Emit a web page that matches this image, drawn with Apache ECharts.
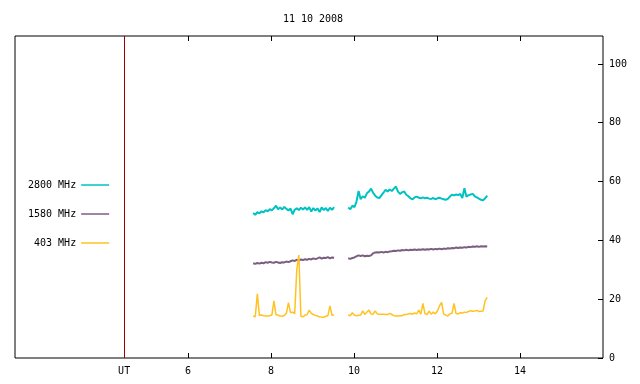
<!DOCTYPE html>
<html>
<head>
<meta charset="utf-8">
<title>11 10 2008</title>
<script src="https://cdn.jsdelivr.net/npm/echarts@6/dist/echarts.min.js"></script>
<style>
  html, body { margin: 0; padding: 0; background: #fff; }
  #chart { width: 640px; height: 384px; }
</style>
</head>
<body>
<div id="chart"></div>
<script>
// sampling of the two observing blocks (UT hours)
var seg1Start = 7.57, seg1Count = 40;
var seg2Start = 9.86, seg2Count = 68;
var step = 0.05;

var names = ['2800 MHz', '1580 MHz', '403 MHz'];
var colors = ['#00c2c2', '#7b5e80', '#ffc21f'];

// 2800 MHz
var f2800a = [49.3,48.7,49.6,49.2,49.9,49.5,50.3,49.9,50.6,50.2,
              50.9,51.8,50.6,51.2,50.5,51.4,50.7,50.2,50.8,48.9,
              50.4,50.9,50.3,51.1,50.5,51.2,50.4,51.3,49.8,51.0,
              50.1,50.9,49.6,51.2,50.3,51.0,50.0,51.1,50.4,51.3];
var f2800b = [51.2,50.6,51.8,51.3,53.2,56.8,54.0,55.0,54.5,56.0,
              56.6,57.6,56.2,55.2,54.6,54.4,55.3,56.2,57.2,56.6,
              57.3,56.8,57.6,58.3,56.6,55.8,56.4,56.6,55.5,55.0,
              54.3,54.0,54.6,54.9,54.5,54.3,54.6,54.3,54.5,54.2,
              54.1,54.4,54.0,54.3,54.5,54.2,54.0,53.8,54.1,54.9,
              55.5,55.3,55.6,55.4,55.8,54.4,57.7,54.8,55.4,55.6,
              55.8,55.0,54.6,54.2,53.8,53.6,54.3,55.2];
// 1580 MHz
var f1580a = [32.2,32.0,32.3,32.1,32.4,32.2,32.6,32.4,32.7,32.5,
              32.4,32.7,32.5,32.3,32.6,32.5,32.8,32.6,32.9,33.2,
              33.0,33.4,33.2,33.5,33.3,33.6,33.4,33.7,33.5,33.9,
              33.6,33.9,34.2,33.8,34.1,34.0,34.3,33.9,34.2,34.1];
var f1580b = [33.9,33.7,34.0,34.2,34.6,34.9,34.7,34.9,34.6,34.8,
              34.7,34.9,35.6,35.9,36.0,35.9,36.1,35.9,36.1,36.0,
              36.2,36.3,36.5,36.4,36.6,36.5,36.7,36.6,36.8,36.6,
              36.8,36.7,36.9,36.7,36.9,36.8,37.0,36.8,37.0,36.9,
              37.1,36.9,37.1,37.0,37.2,37.0,37.2,37.1,37.3,37.2,
              37.4,37.3,37.6,37.4,37.6,37.5,37.7,37.6,37.8,37.7,
              37.9,37.8,38.0,37.8,38.0,37.9,38.0,37.9];
// 403 MHz
var f403a = [14.3,14.0,21.8,14.5,14.6,14.4,14.3,14.3,14.4,14.6,
             19.4,14.7,14.6,14.3,14.2,14.5,15.2,18.8,15.4,15.6,
             15.1,30.0,35.0,14.2,14.0,14.6,14.7,16.3,15.2,14.8,
             14.5,14.3,14.0,13.9,13.9,14.2,14.4,17.7,14.5,14.6];
var f403b = [14.6,14.4,15.4,14.5,14.4,14.5,14.6,16.0,14.8,15.6,
             16.3,15.0,14.9,16.0,15.0,14.9,14.9,14.9,14.8,14.8,
             15.2,14.8,14.4,14.3,14.3,14.4,14.4,14.8,14.8,15.0,
             15.1,14.9,15.3,15.0,16.3,14.9,18.6,15.0,14.8,15.9,
             14.9,15.6,15.0,16.0,17.7,18.9,15.0,14.6,14.3,15.0,
             15.2,18.6,15.1,15.0,15.4,15.3,15.6,15.5,15.8,16.1,
             15.9,16.0,16.2,15.8,15.9,16.0,19.4,20.6];

var utPos = 4.46;
var xTicks = [6, 8, 10, 12, 14];
var yTicks = [0, 20, 40, 60, 80, 100];
var lineWidths = [2, 2, 1.5];

function buildData(a, b) {
  var out = [];
  for (var i = 0; i < a.length; i++) out.push([seg1Start + i * step, a[i]]);
  out.push([(seg1Start + seg1Count * step + seg2Start) / 2, '-']);
  for (var j = 0; j < b.length; j++) out.push([seg2Start + j * step, b[j]]);
  return out;
}

var font = 'DejaVu Sans Mono';
var chart = echarts.init(document.getElementById('chart'));

var seriesVals = [[f2800a, f2800b], [f1580a, f1580b], [f403a, f403b]];
var series = seriesVals.map(function (s, k) {
  var o = {
    name: names[k],
    type: 'line',
    data: buildData(s[0], s[1]),
    symbol: 'none',
    connectNulls: false,
    lineStyle: { color: colors[k], width: lineWidths[k] },
    itemStyle: { color: colors[k] }
  };
  if (k === 0) {
    o.markLine = {
      silent: true,
      symbol: 'none',
      label: { show: false },
      lineStyle: { color: '#990000', width: 1, type: 'solid' },
      data: [{ xAxis: utPos }]
    };
  }
  return o;
});

chart.setOption({
  animation: false,
  backgroundColor: '#fff',
  title: {
    text: '11 10 2008',
    left: 308,
    textAlign: 'center',
    top: 9,
    textStyle: { fontFamily: font, fontSize: 10, fontWeight: 'normal', color: '#000' }
  },
  legend: {
    data: names,
    orient: 'vertical',
    align: 'right',
    icon: 'rect',
    left: 23,
    top: 175,
    itemWidth: 28,
    itemHeight: 1.5,
    itemGap: 19,
    textStyle: { fontFamily: font, fontSize: 10, color: '#000' }
  },
  grid: {
    left: 15, right: 37, top: 36, bottom: 26,
    show: true, borderColor: '#000', borderWidth: 1, backgroundColor: '#fff'
  },
  xAxis: [{
    type: 'value',
    min: 1.83, max: 16,
    position: 'bottom',
    axisLine: { show: false },
    splitLine: { show: false },
    axisTick: { inside: true, length: 5, lineStyle: { color: '#000' }, customValues: xTicks },
    axisLabel: {
      customValues: [utPos].concat(xTicks),
      margin: 8,
      fontFamily: font, fontSize: 10, color: '#000',
      formatter: function (v) { return Math.abs(v - utPos) < 1e-6 ? 'UT' : String(v); }
    }
  }, {
    type: 'value',
    min: 1.83, max: 16,
    position: 'top',
    axisLine: { show: false },
    splitLine: { show: false },
    axisTick: { inside: true, length: 5, lineStyle: { color: '#000' }, customValues: xTicks },
    axisLabel: { show: false }
  }],
  yAxis: {
    type: 'value',
    position: 'right',
    min: 0, max: 109.5,
    axisLine: { show: false },
    splitLine: { show: false },
    axisTick: { inside: true, length: 5, lineStyle: { color: '#000' }, customValues: yTicks },
    axisLabel: { customValues: yTicks, margin: 6, fontFamily: font, fontSize: 10, color: '#000' }
  },
  series: series
});
</script>
</body>
</html>
